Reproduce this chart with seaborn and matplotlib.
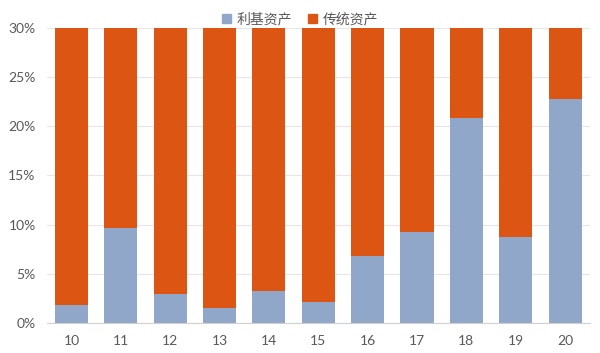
import matplotlib
matplotlib.use('agg')
import matplotlib.pyplot as plt
import seaborn as sns
import pandas as pd
import numpy as np
from matplotlib.patches import Patch
from matplotlib.ticker import FuncFormatter

# data (share of assets, %)
years = ["10", "11", "12", "13", "14", "15", "16", "17", "18", "19", "20"]
niche = [1.8, 9.7, 2.95, 1.5, 3.25, 2.1, 6.8, 9.25, 20.85, 8.75, 22.8]
traditional = [100 - v for v in niche]

blue = "#91A7CA"
orange = "#DC5513"

df = pd.DataFrame({"year": years, "niche": niche, "traditional": traditional})
df["total"] = df["niche"] + df["traditional"]

sns.set_style("white")
plt.rcParams['font.family'] = ['Lato', 'Noto Sans CJK SC', 'DejaVu Sans']

fig = plt.figure(figsize=(6, 3.53), dpi=100)
ax = fig.add_axes([0.078, 0.085, 0.905, 0.836])

sns.barplot(data=df, x="year", y="total", order=years, color=orange,
            width=0.67, saturation=1, linewidth=0, ax=ax)
sns.barplot(data=df, x="year", y="niche", order=years, color=blue,
            width=0.67, saturation=1, linewidth=0, ax=ax)

ax.set_ylim(0, 30)
ax.set_xlim(-0.5, len(years) - 0.5)
ax.set_yticks(np.arange(0, 31, 5))
ax.yaxis.set_major_formatter(FuncFormatter(lambda v, p: "%d%%" % v))
ax.yaxis.grid(True, color="#E6E6E6", linewidth=0.8)
ax.set_axisbelow(True)
ax.set_xlabel("")
ax.set_ylabel("")

for s in ["top", "right", "left"]:
    ax.spines[s].set_visible(False)
ax.spines["bottom"].set_color("#D0D0D0")

# tick marks between categories
ax.set_xticks(np.arange(-0.5, len(years), 1), minor=True)
ax.tick_params(axis="x", which="minor", length=4, color="#D0D0D0", width=0.8)
ax.tick_params(axis="x", which="major", length=0, labelsize=10, labelcolor="#595959", pad=9)
ax.tick_params(axis="y", length=0, labelsize=10, labelcolor="#595959", pad=8)

handles = [Patch(color=blue, label="利基资产"), Patch(color=orange, label="传统资产")]
fig.legend(handles=handles, loc="upper center", bbox_to_anchor=(0.5, 1.0), ncol=2,
           frameon=False, handlelength=0.6, handleheight=0.6, handletextpad=0.4,
           columnspacing=1.2, prop={"family": ["Noto Sans CJK SC", "DejaVu Sans"], "size": 10},
           labelcolor="#595959")

fig.savefig("out.png", dpi=100)
